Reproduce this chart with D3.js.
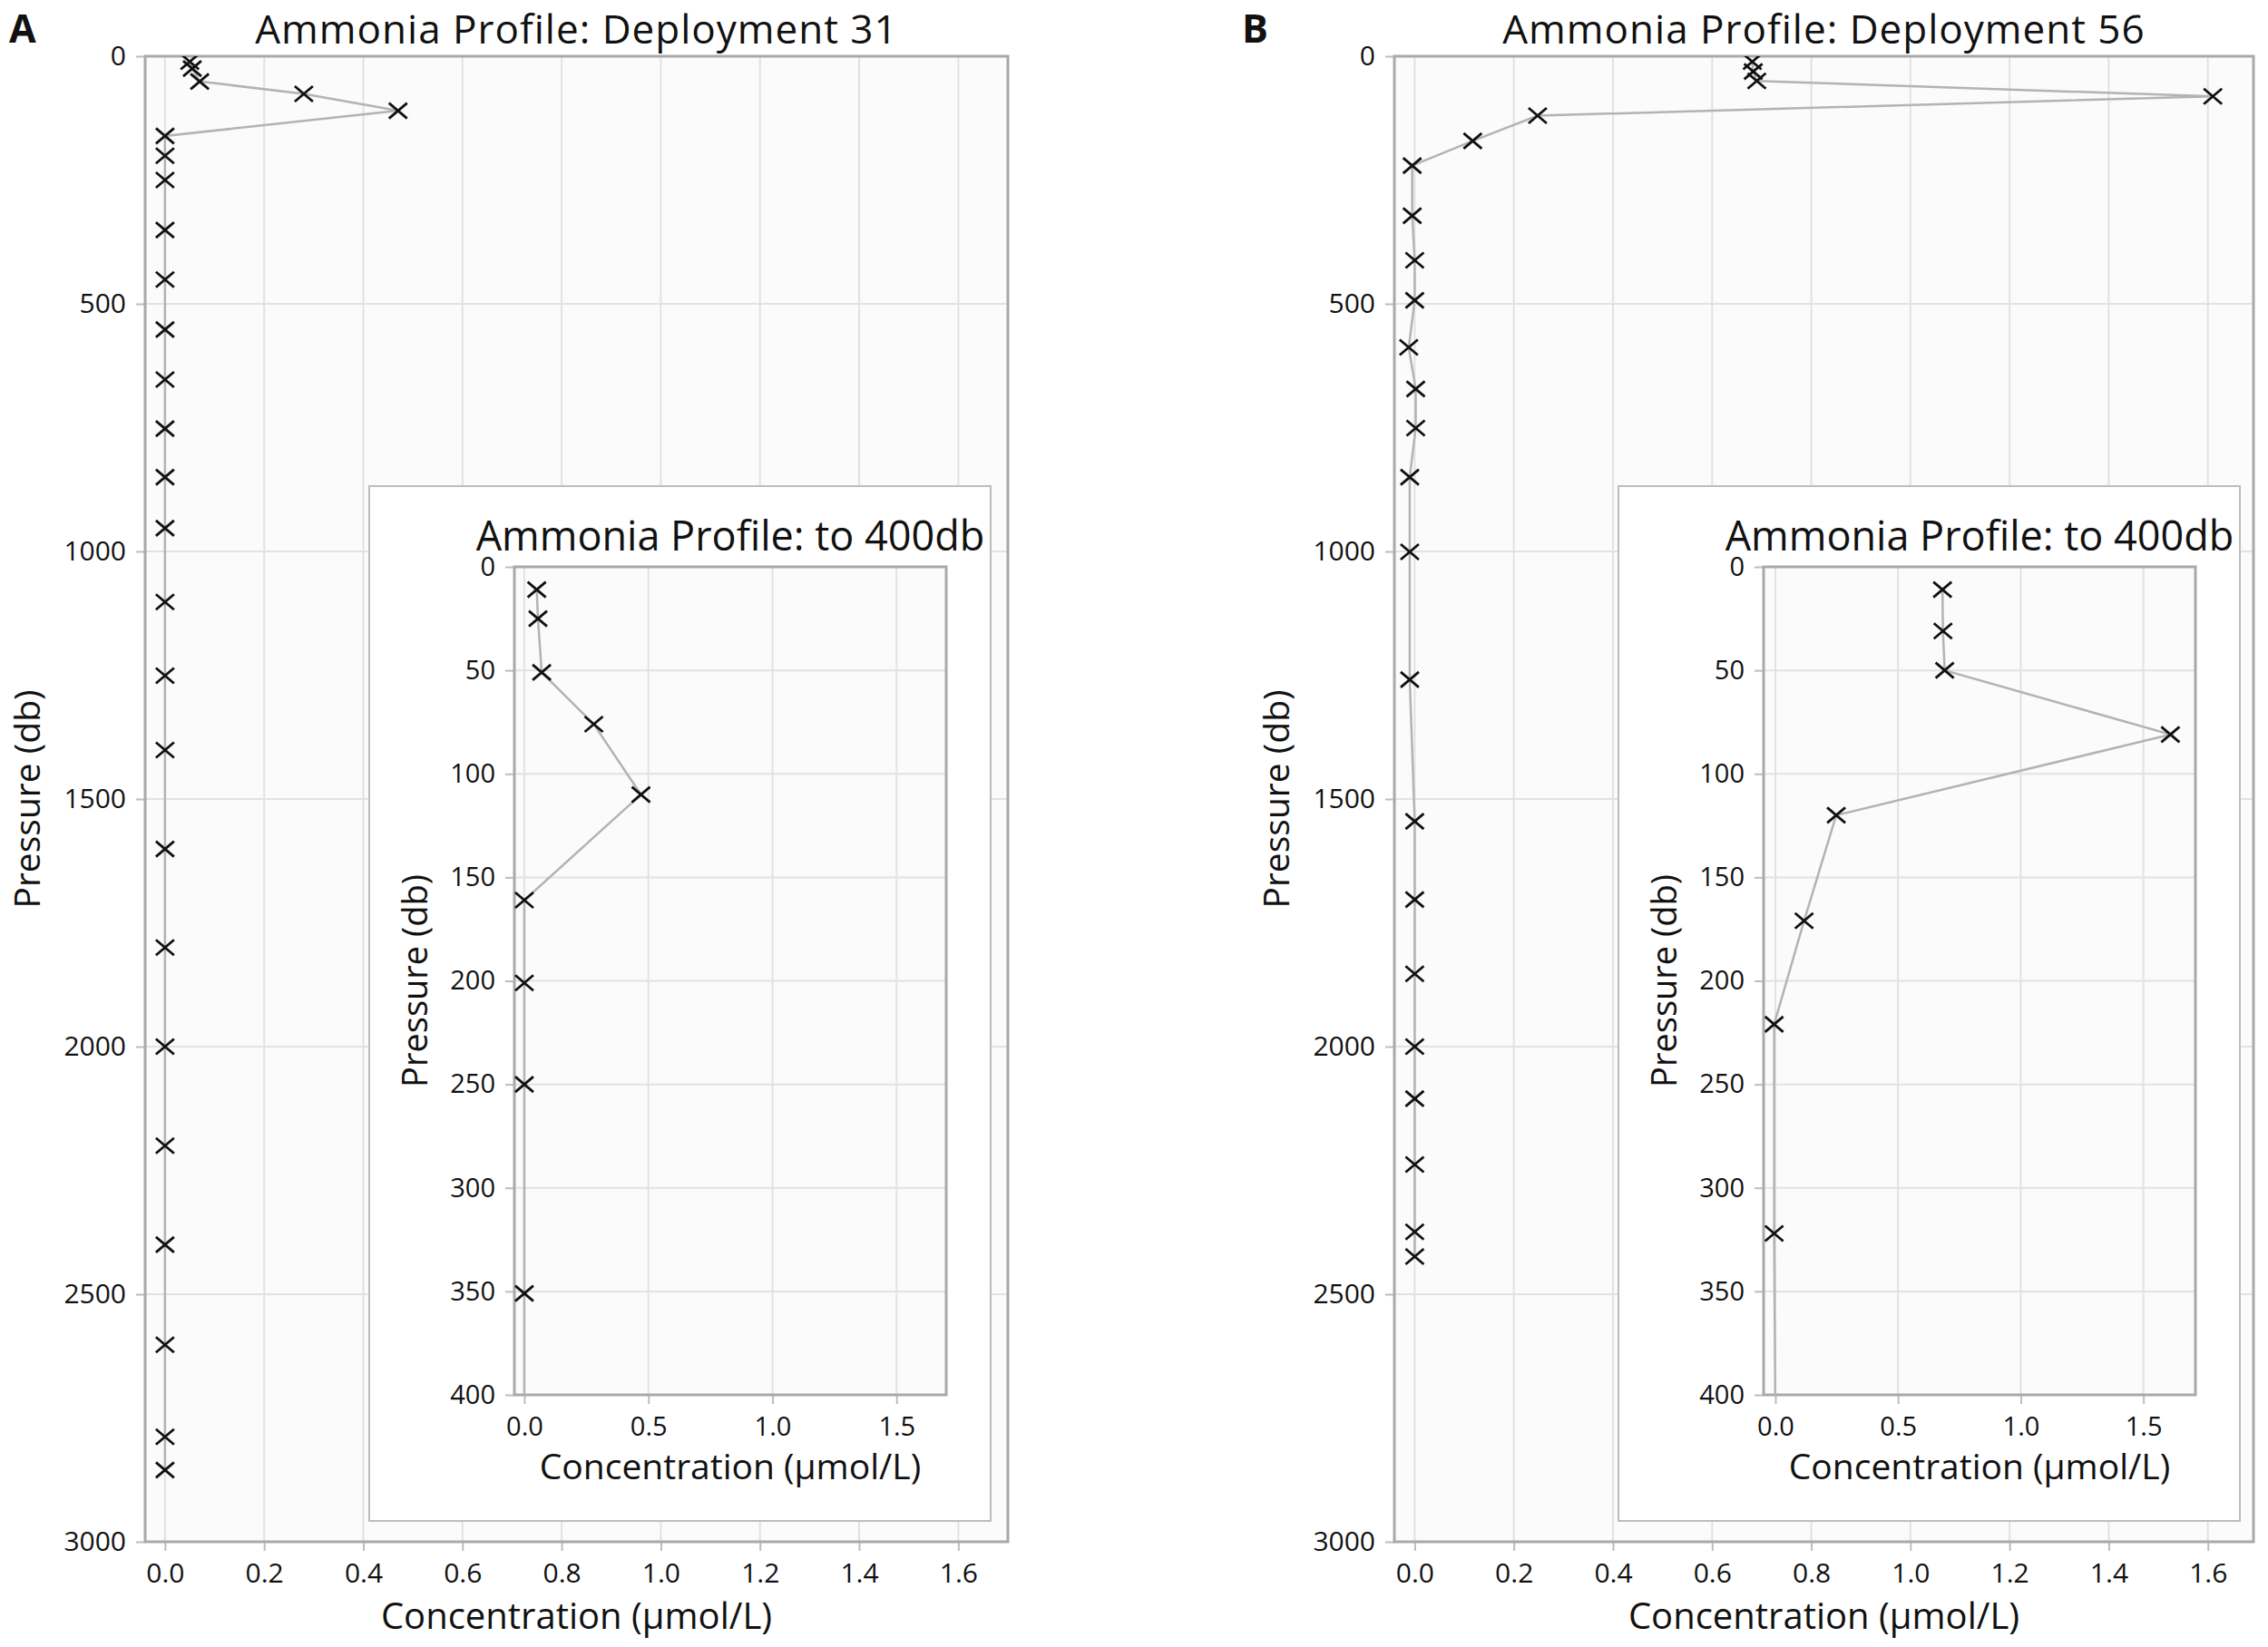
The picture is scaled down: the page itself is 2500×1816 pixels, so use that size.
<!DOCTYPE html>
<html>
<head>
<meta charset="utf-8">
<script src="https://cdn.jsdelivr.net/npm/d3@7/dist/d3.min.js"></script>
<style>
  html, body { margin: 0; padding: 0; background: #ffffff; }
  svg { display: block; }
  text { font-family: "Open Sans", "Noto Sans", sans-serif; fill: #111; }
</style>
</head>
<body>
<svg id="chart" width="2500" height="1816"></svg>
<script>
// ---------------- DATA ----------------
const panelLabels = ["A", "B"];
const titles = ["Ammonia Profile: Deployment 31", "Ammonia Profile: Deployment 56"];
const insetTitle = "Ammonia Profile: to 400db";
const xTitle = "Concentration (\u00b5mol/L)";
const yTitle = "Pressure (db)";

// Deployment 31
const pressureA = [11, 25, 51, 76, 110, 161, 201, 250, 351, 451, 552, 653, 752, 850, 953,
                   1102, 1251, 1401, 1601, 1800, 2000, 2200, 2400, 2602, 2788, 2855];
const concA     = [0.05, 0.055, 0.07, 0.28, 0.47, 0.0, 0.0, 0.0, 0.0, 0.0, 0.0, 0.0, 0.0, 0.0, 0.0,
                   0.0, 0.0, 0.0, 0.0, 0.0, 0.0, 0.0, 0.0, 0.0, 0.0, 0.0];

// Deployment 56
const pressureB = [11, 31, 50, 81, 120, 171, 221, 322, 412, 493, 588, 672, 751, 850, 1001,
                   1259, 1545, 1703, 1853, 2000, 2105, 2238, 2374, 2424];
const concB     = [0.681, 0.683, 0.69, 1.61, 0.248, 0.117, -0.005, -0.005, 0.0, 0.0, -0.012, 0.002,
                   0.002, -0.01, -0.01, -0.01, 0.0, 0.0, 0.0, 0.0, 0.0, 0.0, 0.0, 0.0];

const mainXTicks = [0, 0.2, 0.4, 0.6, 0.8, 1.0, 1.2, 1.4, 1.6];
const mainYTicks = [0, 500, 1000, 1500, 2000, 2500, 3000];
const insetXTicks = [0, 0.5, 1.0, 1.5];
const insetYTicks = [0, 50, 100, 150, 200, 250, 300, 350, 400];

// ---------------- LAYOUT ----------------
const panels = [
  { dx: 0,    label: panelLabels[0], title: titles[0], p: pressureA, c: concA,
    mainDom: [-0.04, 1.70], mainRight: 1111, insetDom: [-0.04, 1.70], labelX: 10 },
  { dx: 1377, label: panelLabels[1], title: titles[1], p: pressureB, c: concB,
    mainDom: [-0.041, 1.692], mainRight: 1107, insetDom: [-0.048, 1.712], labelX: 1369 - 1377 }
];

const svg = d3.select("#chart");
svg.append("rect").attr("width", 2500).attr("height", 1816).attr("fill", "#ffffff");

const gridColor = "#e2e2e2";
const frameColor = "#a9a9a9";
const tickColor = "#bdbdbd";
const lineColor = "#b3b3b3";

function crossPath() { return "M-10,-8.5L10,8.5M-10,8.5L10,-8.5"; }

panels.forEach((P, idx) => {
  const g = svg.append("g").attr("transform", `translate(${P.dx},0)`);
  const data = P.p.map((p, i) => ({ p: p, c: P.c[i] }));

  // ----- main plot -----
  const M = { left: 160, right: P.mainRight, top: 62, bottom: 1700 };
  const x = d3.scaleLinear().domain(P.mainDom).range([M.left, M.right]);
  const y = d3.scaleLinear().domain([0, 3000]).range([M.top, M.bottom]);

  g.append("rect").attr("x", M.left).attr("y", M.top)
    .attr("width", M.right - M.left).attr("height", M.bottom - M.top)
    .attr("fill", "#fbfbfb");

  // gridlines
  g.append("g").selectAll("line").data(mainXTicks).join("line")
    .attr("x1", d => x(d)).attr("x2", d => x(d)).attr("y1", M.top).attr("y2", M.bottom)
    .attr("stroke", gridColor).attr("stroke-width", 2);
  g.append("g").selectAll("line").data(mainYTicks.slice(1, -1)).join("line")
    .attr("x1", M.left).attr("x2", M.right).attr("y1", d => y(d)).attr("y2", d => y(d))
    .attr("stroke", gridColor).attr("stroke-width", 2);

  // axes
  const ax = g.append("g").attr("transform", `translate(0,${M.bottom})`)
    .call(d3.axisBottom(x).tickValues(mainXTicks).tickFormat(d3.format(".1f")).tickSize(10).tickPadding(14));
  const ay = g.append("g").attr("transform", `translate(${M.left},0)`)
    .call(d3.axisLeft(y).tickValues(mainYTicks).tickFormat(d3.format("d")).tickSize(10).tickPadding(11));
  [ax, ay].forEach(a => {
    a.select(".domain").remove();
    a.selectAll(".tick line").attr("stroke", tickColor).attr("stroke-width", 2);
    a.selectAll(".tick text").attr("font-size", 30).attr("fill", "#222")
      .attr("font-family", "'Open Sans', sans-serif");
  });

  // frame
  g.append("rect").attr("x", M.left).attr("y", M.top)
    .attr("width", M.right - M.left).attr("height", M.bottom - M.top)
    .attr("fill", "none").attr("stroke", frameColor).attr("stroke-width", 3);

  // clip
  const clipId = "clipMain" + idx;
  g.append("clipPath").attr("id", clipId).append("rect")
    .attr("x", M.left).attr("y", M.top).attr("width", M.right - M.left).attr("height", M.bottom - M.top);

  const line = d3.line().x(d => x(d.c)).y(d => y(d.p));
  const dg = g.append("g").attr("clip-path", `url(#${clipId})`);
  dg.append("path").datum(data).attr("d", line)
    .attr("fill", "none").attr("stroke", lineColor).attr("stroke-width", 2.5);
  dg.selectAll("path.mk").data(data).join("path").attr("class", "mk")
    .attr("transform", d => `translate(${x(d.c)},${y(d.p)})`)
    .attr("d", crossPath()).attr("stroke", "#111").attr("stroke-width", 2.8).attr("fill", "none");

  // titles
  g.append("text").attr("x", (M.left + M.right) / 2).attr("y", 47.5)
    .attr("text-anchor", "middle").attr("font-size", 44).attr("letter-spacing", 1).text(P.title);
  g.append("text").attr("x", (M.left + M.right) / 2).attr("y", 1796)
    .attr("text-anchor", "middle").attr("font-size", 40).text(xTitle);
  g.append("text").attr("transform", `translate(44,${(M.top + M.bottom) / 2}) rotate(-90)`)
    .attr("text-anchor", "middle").attr("font-size", 39).text(yTitle);

  // panel label
  g.append("text").attr("x", P.labelX).attr("y", 47)
    .attr("font-family", "'Liberation Sans', Arial, sans-serif").attr("font-weight", "bold")
    .attr("font-size", 43).text(P.label);

  // ----- inset -----
  const B = { left: 407, right: 1092, top: 536, bottom: 1677 };
  g.append("rect").attr("x", B.left).attr("y", B.top)
    .attr("width", B.right - B.left).attr("height", B.bottom - B.top)
    .attr("fill", "#ffffff").attr("stroke", "#bdbdbd").attr("stroke-width", 2);

  const I = { left: 567, right: 1043, top: 625, bottom: 1538 };
  const xi = d3.scaleLinear().domain(P.insetDom).range([I.left, I.right]);
  const yi = d3.scaleLinear().domain([0, 400]).range([I.top, I.bottom]);

  g.append("rect").attr("x", I.left).attr("y", I.top)
    .attr("width", I.right - I.left).attr("height", I.bottom - I.top).attr("fill", "#fbfbfb");

  g.append("g").selectAll("line").data(insetXTicks).join("line")
    .attr("x1", d => xi(d)).attr("x2", d => xi(d)).attr("y1", I.top).attr("y2", I.bottom)
    .attr("stroke", gridColor).attr("stroke-width", 2);
  g.append("g").selectAll("line").data(insetYTicks.slice(1, -1)).join("line")
    .attr("x1", I.left).attr("x2", I.right).attr("y1", d => yi(d)).attr("y2", d => yi(d))
    .attr("stroke", gridColor).attr("stroke-width", 2);

  const axi = g.append("g").attr("transform", `translate(0,${I.bottom})`)
    .call(d3.axisBottom(xi).tickValues(insetXTicks).tickFormat(d3.format(".1f")).tickSize(10).tickPadding(14));
  const ayi = g.append("g").attr("transform", `translate(${I.left},0)`)
    .call(d3.axisLeft(yi).tickValues(insetYTicks).tickFormat(d3.format("d")).tickSize(10).tickPadding(11));
  [axi, ayi].forEach(a => {
    a.select(".domain").remove();
    a.selectAll(".tick line").attr("stroke", tickColor).attr("stroke-width", 2);
    a.selectAll(".tick text").attr("font-size", 29).attr("fill", "#222")
      .attr("font-family", "'Open Sans', sans-serif");
  });

  g.append("rect").attr("x", I.left).attr("y", I.top)
    .attr("width", I.right - I.left).attr("height", I.bottom - I.top)
    .attr("fill", "none").attr("stroke", frameColor).attr("stroke-width", 3);

  const clipI = "clipInset" + idx;
  g.append("clipPath").attr("id", clipI).append("rect")
    .attr("x", I.left).attr("y", I.top).attr("width", I.right - I.left).attr("height", I.bottom - I.top);

  const linei = d3.line().x(d => xi(d.c)).y(d => yi(d.p));
  const di = g.append("g").attr("clip-path", `url(#${clipI})`);
  di.append("path").datum(data).attr("d", linei)
    .attr("fill", "none").attr("stroke", lineColor).attr("stroke-width", 2.5);
  di.selectAll("path.mk").data(data.filter(d => d.p <= 400)).join("path").attr("class", "mk")
    .attr("transform", d => `translate(${xi(d.c)},${yi(d.p)})`)
    .attr("d", crossPath()).attr("stroke", "#111").attr("stroke-width", 2.8).attr("fill", "none");

  g.append("text").attr("x", (I.left + I.right) / 2).attr("y", 607)
    .attr("text-anchor", "middle").attr("font-size", 45).text(insetTitle);
  g.append("text").attr("x", (I.left + I.right) / 2).attr("y", 1631)
    .attr("text-anchor", "middle").attr("font-size", 39).text(xTitle);
  g.append("text").attr("transform", `translate(471,${(I.top + I.bottom) / 2}) rotate(-90)`)
    .attr("text-anchor", "middle").attr("font-size", 38).text(yTitle);
});
</script>
</body>
</html>
